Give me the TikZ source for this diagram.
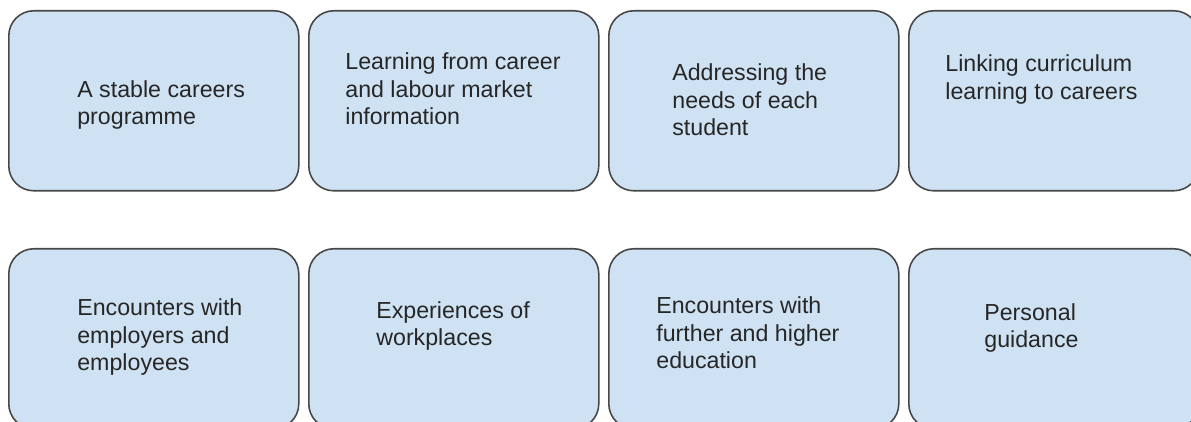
\documentclass[tikz,border=0pt]{standalone}
\usepackage{fontspec}
\setmainfont{Liberation Sans}
\definecolor{cardfill}{HTML}{CFE2F3}
\definecolor{cardline}{HTML}{474747}
\definecolor{cardink}{HTML}{262626}
\begin{document}
\begin{tikzpicture}[
  card/.style={draw=cardline,fill=cardfill,line width=0.9pt,rounded corners=0.5cm,
    minimum width=5.8cm,minimum height=3.6cm,anchor=north west,inner sep=0pt},
  cardtext/.style={anchor=base west,align=left,inner sep=0pt,text=cardink,
    font=\fontsize{13.2pt}{15.9pt}\selectfont}]
  \useasboundingbox (0,0) rectangle (23.82,-8.44);
  \clip (0,0) rectangle (23.82,-8.44);
  % top row of cards
  \node[card] (stable) at (0.16,-0.2) {};
  \node[card] (lmi) at (6.16,-0.2) {};
  \node[card] (needs) at (12.16,-0.2) {};
  \node[card] (curric) at (18.16,-0.2) {};
  % bottom row, runs off the lower edge
  \node[card] (employers) at (0.16,-4.96) {};
  \node[card] (workplaces) at (6.16,-4.96) {};
  \node[card] (fhe) at (12.16,-4.96) {};
  \node[card] (guidance) at (18.16,-4.96) {};
  % card texts, placed by the baseline of their last line
  \node[cardtext] (stable-t) at (1.54,-2.50) {A stable careers\\programme};
  \node[cardtext] (lmi-t) at (6.90,-2.50) {Learning from career\\and labour market\\information};
  \node[cardtext] (needs-t) at (13.44,-2.72) {Addressing the\\needs of each\\student};
  \node[cardtext] (curric-t) at (18.90,-1.99) {Linking curriculum\\learning to careers};
  \node[cardtext] (employers-t) at (1.54,-7.42) {Encounters with\\employers and\\employees};
  \node[cardtext] (workplaces-t) at (7.52,-6.92) {Experiences of\\workplaces};
  \node[cardtext] (fhe-t) at (13.12,-7.38) {Encounters with\\further and higher\\education};
  \node[cardtext] (guidance-t) at (19.68,-6.96) {Personal\\guidance};
\end{tikzpicture}
\end{document}
